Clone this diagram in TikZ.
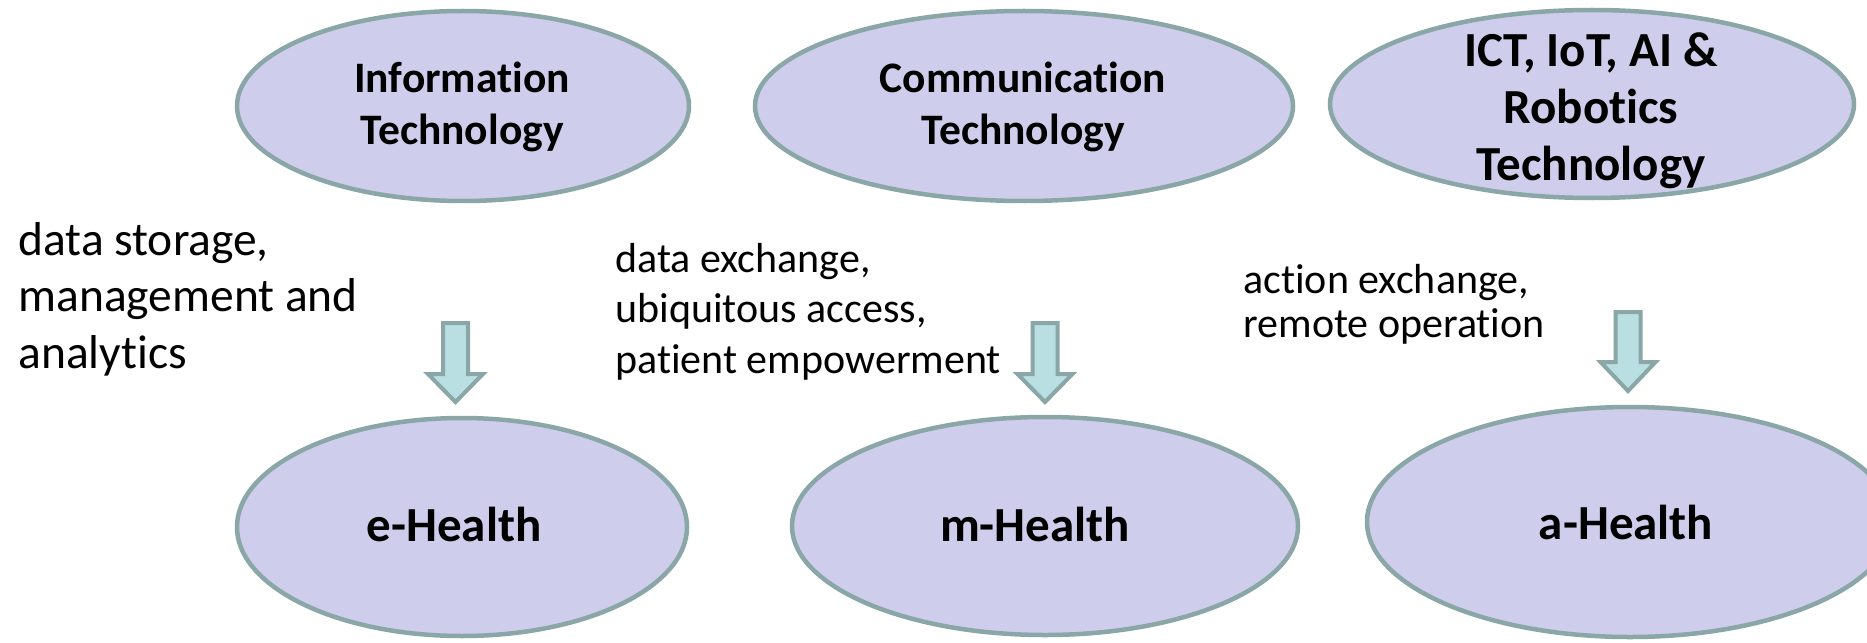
\documentclass[tikz,border=0pt]{standalone}
\usepackage{fontspec}
\setmainfont{Carlito}[Ligatures=NoCommon]
\usetikzlibrary{shapes.geometric}
\definecolor{ellfill}{RGB}{206,206,236}
\definecolor{edgecol}{RGB}{138,166,166}
\definecolor{arrfill}{RGB}{186,223,226}
% block arrow pointing down: centre x, top y, head base y, tip y
\newcommand{\blockarrow}[4]{%
  \draw[arrbox] (#1-12.5,#2) -- (#1+12.5,#2) -- (#1+12.5,#3) -- (#1+27.5,#3)
    -- (#1,#4) -- (#1-27.5,#3) -- (#1-12.5,#3) -- cycle;}
\begin{document}
\begin{tikzpicture}[x=0.5pt,y=-0.5pt,
  ell/.style={ellipse, draw=edgecol, fill=ellfill, line width=2.25pt, inner sep=0pt},
  toplbl/.style={font=\bfseries\fontsize{21.75}{26}\selectfont, align=center, inner sep=0pt},
  biglbl/.style={font=\bfseries\fontsize{24.5}{28.5}\selectfont, align=center, inner sep=0pt},
  note/.style={align=left, inner sep=0pt, anchor=base west},
  arrbox/.style={draw=edgecol, fill=arrfill, line width=2pt, line join=miter}]
\useasboundingbox[fill=white] (0,0) rectangle (1867,642);

% top ellipses
\node[ell, minimum width=226pt, minimum height=95pt] (it) at (463,106) {};
\node[toplbl] (itl) at (462,107) {Information\\Technology};
\node[ell, minimum width=269pt, minimum height=95pt] (ct) at (1024,106) {};
\node[toplbl] (ctl) at (1023,107) {Communication\\Technology};
\node[ell, minimum width=262pt, minimum height=94pt] (ict) at (1592,104) {};
\node[biglbl] (ictl) at (1591,111) {ICT, IoT, AI \&\\Robotics\\Technology};

% bottom ellipses
\node[ell, minimum width=225pt, minimum height=109pt] (eh) at (462,527) {};
\node[biglbl] (ehl) at (454,524) {e-Health};
\node[ell, minimum width=253pt, minimum height=109pt] (mh) at (1045,526) {};
\node[biglbl] (mhl) at (1035,524) {m-Health};
\node[ell, minimum width=263pt, minimum height=115pt] (ah) at (1630,522) {};
\node[biglbl] (ahl) at (1626,522) {a-Health};

% notes (anchor = baseline of the last line)
\node[note, font=\fontsize{23.75}{28.25}\selectfont] (n1) at (18,368)
  {data storage,\\management and\\analytics};
\node[note, font=\fontsize{21}{25.25}\selectfont] (n2) at (615,373)
  {data exchange,\\ubiquitous access,\\patient empowerment};
\node[note, font=\fontsize{21}{22}\selectfont] (n3) at (1243,337)
  {action exchange,\\remote operation};

% block arrows
\blockarrow{455.5}{323}{374}{402}
\blockarrow{1045}{323}{374}{402}
\blockarrow{1628}{312}{362}{391}
\end{tikzpicture}
\end{document}
